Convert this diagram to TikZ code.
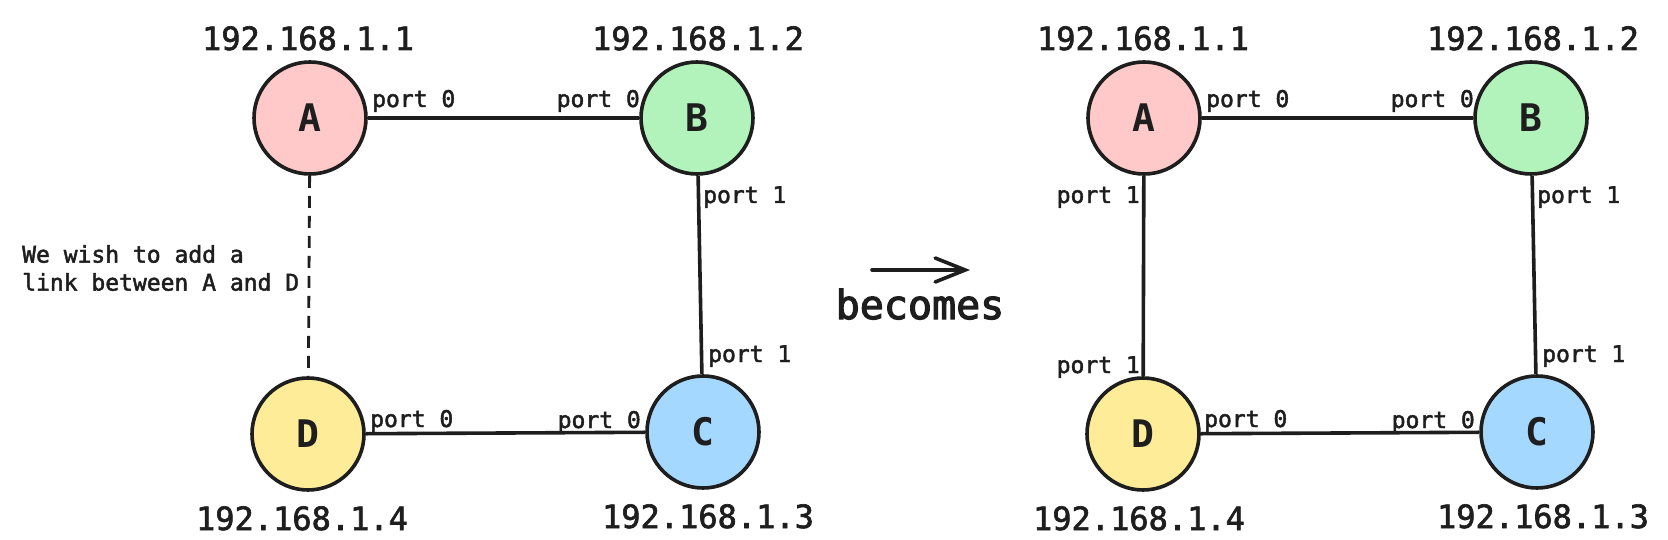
\documentclass[tikz,border=0pt]{standalone}
\usepackage{fontspec}
\setmainfont{DejaVu Sans Mono}
\newfontfamily\semib{DejaVu Sans Mono}[FakeBold=2]
\newfontfamily\semic{DejaVu Sans Mono}[FakeBold=3]
\usetikzlibrary{arrows.meta}
\definecolor{ink}{HTML}{1E1E1E}
\definecolor{fillA}{HTML}{FFC9C9}
\definecolor{fillB}{HTML}{B2F2BB}
\definecolor{fillC}{HTML}{A5D8FF}
\definecolor{fillD}{HTML}{FFEC99}
\begin{document}
\begin{tikzpicture}[x=1pt,y=-1pt,
  host/.style={circle, draw=ink, line width=3.6pt, minimum size=112pt, inner sep=0pt,
               font=\bfseries\fontsize{38}{40}\selectfont, text=ink},
  ip/.style={anchor=base, font=\semib\fontsize{32}{36}\selectfont, text=ink, inner sep=0pt},
  port/.style={font=\semib\fontsize{23}{26}\selectfont, text=ink, inner sep=0pt},
  link/.style={draw=ink, line width=3.6pt},
  plink/.style={draw=ink, line width=2.8pt, dash pattern=on 12pt off 8pt},
]
\useasboundingbox (0,0) rectangle (1668,540);
\fill[white] (0,0) rectangle (1668,540);

% ---------- left diagram ----------
\node[host, fill=fillA] (A) at (310,118) {A};
\node[host, fill=fillB] (B) at (697,118) {B};
\node[host, fill=fillC] (C) at (703,432) {C};
\node[host, fill=fillD] (D) at (308,434) {D};

\node[ip] (ipA) at (308,50) {192.168.1.1};
\node[ip] (ipB) at (698,50) {192.168.1.2};
\node[ip] (ipC) at (708,528) {192.168.1.3};
\node[ip] (ipD) at (302,530) {192.168.1.4};

\draw[link] (A) -- (B);
\draw[link] (B) -- (C);
\draw[link] (D) -- (C);
\draw[plink] (A) -- (D);

\node[port, anchor=base west] (pA0) at (372,107) {port 0};
\node[port, anchor=base east] (pB0) at (640,107) {port 0};
\node[port, anchor=base west] (pB1) at (703,203) {port 1};
\node[port, anchor=base west] (pC1) at (708,362) {port 1};
\node[port, anchor=base east] (pC0) at (641,428) {port 0};
\node[port, anchor=base west] (pD0) at (370,427) {port 0};

\node[port, anchor=west, align=left, font=\semib\fontsize{23}{28}\selectfont] (note) at (22,268)
  {We wish to add a\\link between A and D};

% ---------- middle ----------
\coordinate (arS) at (872,270);
\coordinate (arE) at (970,270);
\draw[draw=ink, line width=3.6pt, line cap=round,
      -{Straight Barb[length=30pt,width=24pt,line cap=round]}] (arS) -- (arE);
\node[anchor=base, font=\semic\fontsize{40}{44}\selectfont, text=ink, inner sep=0pt] (becomes) at (920,319) {becomes};

% ---------- right diagram ----------
\node[host, fill=fillA] (A2) at (1144,118) {A};
\node[host, fill=fillB] (B2) at (1531,118) {B};
\node[host, fill=fillC] (C2) at (1537,432) {C};
\node[host, fill=fillD] (D2) at (1143,434) {D};

\node[ip] (ipA2) at (1143,50) {192.168.1.1};
\node[ip] (ipB2) at (1533,50) {192.168.1.2};
\node[ip] (ipC2) at (1543,528) {192.168.1.3};
\node[ip] (ipD2) at (1139,530) {192.168.1.4};

\draw[link] (A2) -- (B2);
\draw[link] (B2) -- (C2);
\draw[link] (D2) -- (C2);
\draw[link] (A2) -- (D2);

\node[port, anchor=base west] (pA20) at (1206,107) {port 0};
\node[port, anchor=base east] (pB20) at (1474,107) {port 0};
\node[port, anchor=base west] (pB21) at (1537,203) {port 1};
\node[port, anchor=base west] (pC21) at (1542,362) {port 1};
\node[port, anchor=base east] (pC20) at (1475,428) {port 0};
\node[port, anchor=base west] (pD20) at (1204,427) {port 0};
\node[port, anchor=base east] (pA21) at (1140,203) {port 1};
\node[port, anchor=base east] (pD21) at (1140,373) {port 1};
\end{tikzpicture}
\end{document}
